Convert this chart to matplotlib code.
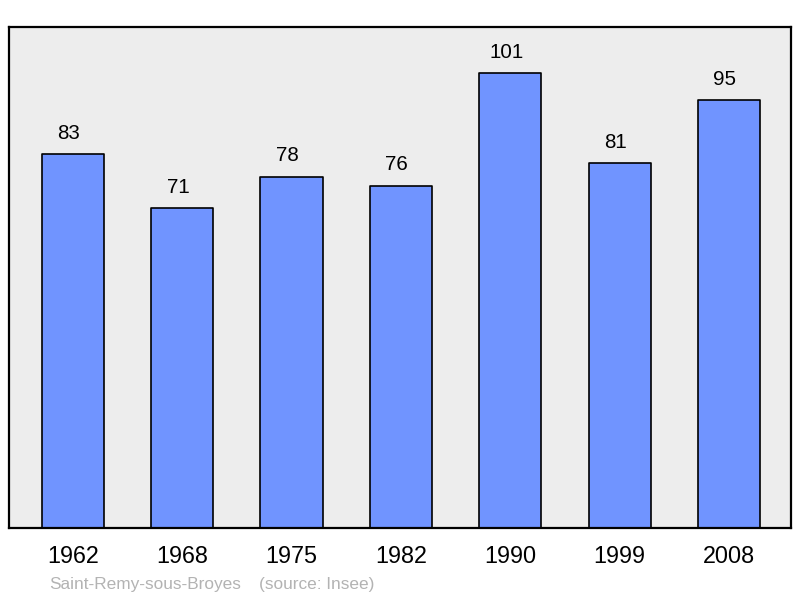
import numpy as np
import matplotlib
matplotlib.use("Agg")
import matplotlib.pyplot as plt

plt.rcParams['font.family'] = ['Liberation Sans', 'DejaVu Sans']

# population by census year
years = ["1962", "1968", "1975", "1982", "1990", "1999", "2008"]
population = [83, 71, 78, 76, 101, 81, 95]
commune = "Saint-Remy-sous-Broyes"
source = "(source: Insee)"

fig = plt.figure(figsize=(8, 5.98), dpi=100)
ax = fig.add_axes([9/800, 70/598, 782/800, 501/598])
ax.set_facecolor("#ededed")

x = np.arange(len(years))
bars = ax.bar(x, population, width=0.57, color="#7094ff", edgecolor="black",
              linewidth=1.2, joinstyle="round")
for xi, v in zip(x, population):
    ax.annotate(str(v), (xi, v), xytext=(-3, 8), textcoords="offset points",
                ha="center", va="bottom", fontsize=14.8)

ax.set_xlim(-0.585, 6.567)
ax.set_ylim(0, 111.2)
ax.set_yticks([])
ax.set_xticks(x)
ax.set_xticklabels(years, fontsize=16.8)
ax.tick_params(axis="x", length=0, pad=12)
for s in ax.spines.values():
    s.set_linewidth(1.6)

fig.text(49/800, 1 - 584/598, commune, color="#b3b3b3", fontsize=12.4, va="center")
fig.text(259/800, 1 - 584/598, source, color="#b3b3b3", fontsize=12.4, va="center")

fig.savefig("out.png", dpi=100)
